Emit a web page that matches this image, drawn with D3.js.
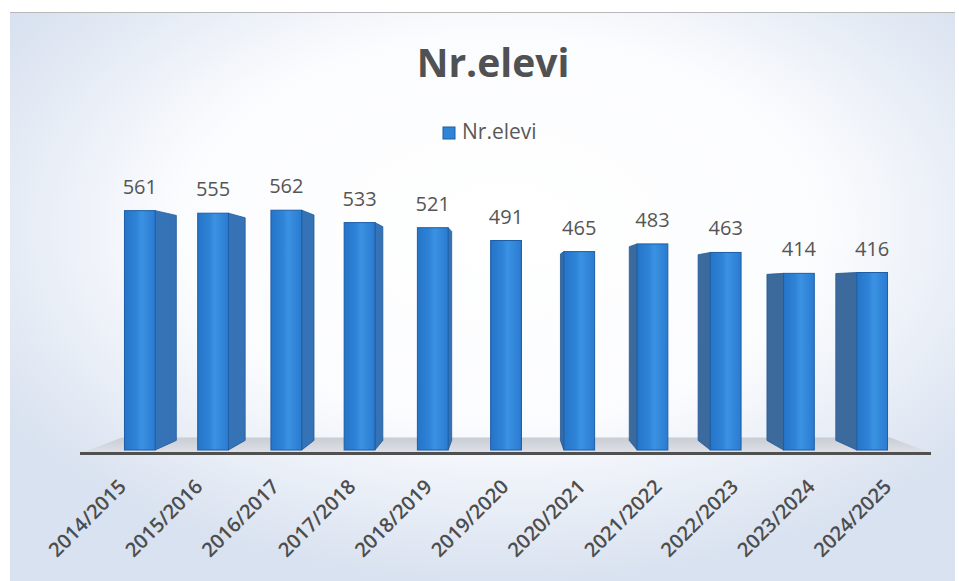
<!DOCTYPE html>
<html>
<head>
<meta charset="utf-8">
<script src="https://cdn.jsdelivr.net/npm/d3@7"></script>
<style>
	body { margin: 0; background: #fff; }
	svg { display: block; font-family: 'Open Sans', sans-serif; }
</style>
</head>
<body>
<div id="chart"></div>
<script>
	var years = ['2014/2015', '2015/2016', '2016/2017', '2017/2018', '2018/2019', '2019/2020',
		'2020/2021', '2021/2022', '2022/2023', '2023/2024', '2024/2025'];
	var students = [561, 555, 562, 533, 521, 491, 465, 483, 463, 414, 416];
	var seriesName = 'Nr.elevi';

	var fullWidth = 959;
	var fullHeight = 581;
	var vx = 507, vy = 290; // vanishing point of the 3d look
	var depth = 0.06; // bar depth
	var floorDepth = 0.09;
	var floorY = 452;

	var svg = d3.select('#chart')
		.append('svg')
		.attr('width', fullWidth)
		.attr('height', fullHeight);

	var defs = svg.append('defs');

	var bg = defs.append('radialGradient')
		.attr('id', 'bg')
		.attr('cx', '52%').attr('cy', '38%').attr('r', '62%');
	bg.append('stop').attr('offset', '0%').attr('stop-color', '#ffffff');
	bg.append('stop').attr('offset', '55%').attr('stop-color', '#fbfcfe');
	bg.append('stop').attr('offset', '100%').attr('stop-color', '#d9e2f0');

	var front = defs.append('linearGradient')
		.attr('id', 'front')
		.attr('x1', '0%').attr('x2', '100%').attr('y1', '0%').attr('y2', '0%');
	front.append('stop').attr('offset', '0%').attr('stop-color', '#2574c8');
	front.append('stop').attr('offset', '40%').attr('stop-color', '#2f84d8');
	front.append('stop').attr('offset', '55%').attr('stop-color', '#3b92e2');
	front.append('stop').attr('offset', '100%').attr('stop-color', '#2a7bd0');

	var floorGrad = defs.append('linearGradient')
		.attr('id', 'floor')
		.attr('x1', '0%').attr('x2', '0%').attr('y1', '0%').attr('y2', '100%');
	floorGrad.append('stop').attr('offset', '0%').attr('stop-color', '#c8ccd4');
	floorGrad.append('stop').attr('offset', '100%').attr('stop-color', '#dde0e6');

	//panel
	svg.append('rect')
		.attr('x', 10).attr('y', 12)
		.attr('width', 945).attr('height', 569)
		.attr('fill', 'url(#bg)');
	svg.append('line')
		.attr('x1', 10).attr('x2', 955)
		.attr('y1', 12.5).attr('y2', 12.5)
		.attr('stroke', '#b8b8b8')
		.attr('stroke-width', 1);

	var x = d3.scaleBand()
		.domain(years)
		.range([82, 930])
		.padding(0.58);

	var y = d3.scaleLinear()
		.domain([0, 600])
		.range([450, 194]);

	// labels sit at the front of the floor, so they spread a little wider
	function spread(v) { return vx + (v - vx) * 1.045 + 4; }
	var xLabel = d3.scaleBand()
		.domain(years)
		.range([spread(82), spread(930)])
		.padding(0.58);

	function toBack(px, py, k) {
		return [px + (vx - px) * k, py + (vy - py) * k];
	}

	//floor
	var f0 = toBack(84, floorY, floorDepth);
	var f1 = toBack(928, floorY, floorDepth);
	svg.append('polygon')
		.attr('points', [[84, floorY], f0, f1, [928, floorY]].join(' '))
		.attr('fill', 'url(#floor)');

	svg.append('line')
		.attr('x1', 80).attr('x2', 931)
		.attr('y1', 453.5).attr('y2', 453.5)
		.attr('stroke', '#505050')
		.attr('stroke-width', 3);

	var bars = svg.append('g')
		.selectAll('g')
		.data(students)
		.enter()
		.append('g');

	//side faces
	bars.append('polygon')
		.attr('points', function(d, i) {
			var left = x(years[i]);
			var right = left + x.bandwidth();
			var edge = (left + right) / 2 < vx ? right : left;
			var top = y(d), bottom = y(0);
			var bt = toBack(edge, top, depth);
			var bb = toBack(edge, bottom, depth);
			return [[edge, top], bt, bb, [edge, bottom]].join(' ');
		})
		.attr('fill', function(d, i) { return x(years[i]) < vx ? '#3672b6' : '#3d6a9c'; })
		.attr('stroke', '#1f5a9c')
		.attr('stroke-width', 0.8);

	bars.append('rect')
		.attr('x', function(d, i) { return x(years[i]); })
		.attr('y', function(d) { return y(d); })
		.attr('width', x.bandwidth())
		.attr('height', function(d) { return y(0) - y(d); })
		.attr('fill', 'url(#front)')
		.attr('stroke', '#1d5ea6')
		.attr('stroke-width', 1);

	bars.append('text')
		.attr('x', function(d, i) { return x(years[i]) + x.bandwidth() / 2; })
		.attr('y', function(d) { return y(d) - 17; })
		.attr('text-anchor', 'middle')
		.attr('font-size', '20px')
		.attr('fill', '#555555')
		.text(function(d) { return d; });

	var xAxis = d3.axisBottom()
		.scale(xLabel)
		.tickSize(0);

	var axisG = svg.append('g')
		.attr('class', 'x axis')
		.attr('transform', 'translate(0,453)')
		.call(xAxis);
	axisG.select('.domain').remove();
	axisG.selectAll('text')
		.attr('x', 0)
		.attr('y', 0)
		.attr('dy', 0)
		.attr('transform', 'translate(0,35) rotate(-45)')
		.attr('text-anchor', 'end')
		.attr('font-family', "'Open Sans', sans-serif")
		.attr('font-size', '20px')
		.attr('font-weight', 600)
		.attr('fill', '#4d4d4d');

	//title
	svg.append('text')
		.attr('x', 493)
		.attr('y', 77)
		.attr('text-anchor', 'middle')
		.attr('font-size', '39px')
		.attr('font-weight', 'bold')
		.attr('fill', '#4f5152')
		.text(seriesName);

	//legend
	var legend = svg.append('g')
		.attr('transform', 'translate(443,127)');
	legend.append('rect')
		.attr('width', 12).attr('height', 12)
		.attr('fill', '#2f84d8')
		.attr('stroke', '#1d5ea6');
	legend.append('text')
		.attr('x', 19)
		.attr('y', 12)
		.attr('font-size', '21px')
		.attr('fill', '#595959')
		.text(seriesName);
</script>
</body>
</html>
